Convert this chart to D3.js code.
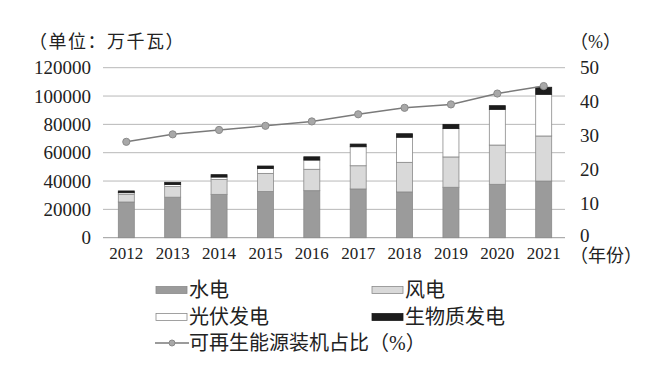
<!DOCTYPE html>
<html><head><meta charset="utf-8">
<script src="https://cdn.jsdelivr.net/npm/d3@7"></script>
<style>body{margin:0;background:#fff}svg{display:block}</style>
</head><body>
<svg id="c" width="668" height="368"></svg>
<script>
const years = ["2012","2013","2014","2015","2016","2017","2018","2019","2020","2021"];
const hydro   = [25200,28600,30600,32600,33200,34400,32300,35600,37700,40000];
const wind    = [5500,7500,10500,12800,15100,16400,20900,21400,27700,31800];
const solar   = [1100,1400,1700,3400,6500,13400,17700,20000,25200,29400];
const biomass = [1200,1600,1700,1800,2300,1900,2500,3000,2600,5000];
const share   = [28.2,30.4,31.7,32.9,34.2,36.3,38.2,39.2,42.4,44.6];
const leftTicks = [0,20000,40000,60000,80000,100000,120000];
const rightTicks = [0,10,20,30,40,50];
const seriesNames = ["水电","风电","光伏发电","生物质发电"];
const lineName = "可再生能源装机占比（%）";

const fontNum = "'Liberation Serif','Noto Sans CJK SC',serif";
const fontCJK = "'Liberation Serif','Noto Sans CJK SC',serif";
const fills = ["#9b9b9b","#d9d9d9","#ffffff","#1c1c1c"];

const svg = d3.select("#c");
const x = d3.scaleBand().domain(years).range([103,567]).paddingInner(0.655).paddingOuter(0.33);
const y = d3.scaleLinear().domain([0,120000]).range([237.7,67.7]);
const y2 = d3.scaleLinear().domain([0,50]).range([237.7,67.7]);

// grid
svg.append("g").selectAll("line").data(leftTicks).join("line")
  .attr("x1",103).attr("x2",565).attr("y1",d=>y(d)).attr("y2",d=>y(d))
  .attr("stroke",d=>d===0?"#9a9a9a":"#b8b8b8").attr("stroke-width",1);

// left axis labels
const la = d3.axisLeft(y).tickValues(leftTicks).tickSize(0).tickPadding(0).tickFormat(d3.format("d"));
const gl = svg.append("g").attr("transform","translate(91,0)").call(la);
gl.select(".domain").remove();
gl.selectAll("text").attr("font-family",fontNum).attr("font-size",19).attr("fill","#222");

const ra = d3.axisRight(y2).tickValues(rightTicks).tickSize(0).tickPadding(0);
const gr = svg.append("g").attr("transform","translate(580,0)").call(ra);
gr.select(".domain").remove();
gr.selectAll("text").attr("font-family",fontNum).attr("font-size",19).attr("fill","#222")
  .attr("dy",d=>d===0?"0.2em":"0.32em");

const xa = d3.axisBottom(x).tickSize(0).tickPadding(0);
const gx = svg.append("g").attr("transform","translate(0,247)").call(xa);
gx.select(".domain").remove();
gx.selectAll("text").attr("font-family",fontNum).attr("font-size",17).attr("fill","#222").attr("dy","0.71em");

// stacked bars
const rows = years.map((yr,i)=>({year:yr,h:hydro[i],w:wind[i],s:solar[i],b:biomass[i]}));
const stack = d3.stack().keys(["h","w","s","b"])(rows);
stack.forEach((layer,k)=>{
  svg.append("g").selectAll("rect").data(layer).join("rect")
    .attr("x",d=>x(d.data.year)).attr("width",x.bandwidth())
    .attr("y",d=>y(d[1])).attr("height",d=>y(d[0])-y(d[1]))
    .attr("fill",fills[k]).attr("stroke",k===3?"#1c1c1c":"#8a8a8a").attr("stroke-width",0.8);
});

// line
const line = d3.line().x((d,i)=>x(years[i])+x.bandwidth()/2).y(d=>y2(d));
svg.append("path").datum(share).attr("d",line).attr("fill","none").attr("stroke","#7a7a7a").attr("stroke-width",1.5);
svg.append("g").selectAll("circle").data(share).join("circle")
  .attr("cx",(d,i)=>x(years[i])+x.bandwidth()/2).attr("cy",d=>y2(d)).attr("r",3.6)
  .attr("fill","#a8a8a8").attr("stroke","#8a8a8a").attr("stroke-width",1);

// titles
svg.append("text").attr("x",29).attr("y",48).attr("font-family",fontCJK).attr("font-size",18).attr("letter-spacing",1.5).attr("fill","#222").text("（单位：万千瓦）");
svg.append("text").attr("x",570).attr("y",48).attr("font-family",fontCJK).attr("font-size",18).attr("fill","#222").text("（%）");
svg.append("text").attr("x",570).attr("y",249).attr("dy","0.71em").attr("font-family",fontCJK).attr("font-size",18).attr("fill","#222").text("（年份）");

// legend
const leg = [
  {x:156,y:290,k:0},{x:372,y:290,k:1},{x:156,y:317,k:2},{x:372,y:317,k:3}
];
leg.forEach(l=>{
  svg.append("rect").attr("x",l.x).attr("y",l.y-3.5).attr("width",31).attr("height",7)
    .attr("fill",fills[l.k]).attr("stroke",l.k===3?"#1c1c1c":"#8a8a8a").attr("stroke-width",0.8);
  svg.append("text").attr("x",l.x+33).attr("y",l.y).attr("dy","0.36em").attr("font-family",fontCJK)
    .attr("font-size",20).attr("fill","#222").text(seriesNames[l.k]);
});
svg.append("line").attr("x1",155).attr("x2",189).attr("y1",343).attr("y2",343).attr("stroke","#7a7a7a").attr("stroke-width",1.5);
svg.append("circle").attr("cx",172).attr("cy",343).attr("r",3).attr("fill","#a8a8a8").attr("stroke","#8a8a8a");
svg.append("text").attr("x",189).attr("y",343).attr("dy","0.36em").attr("font-family",fontCJK).attr("font-size",20).attr("fill","#222").text(lineName);
</script>
</body></html>
